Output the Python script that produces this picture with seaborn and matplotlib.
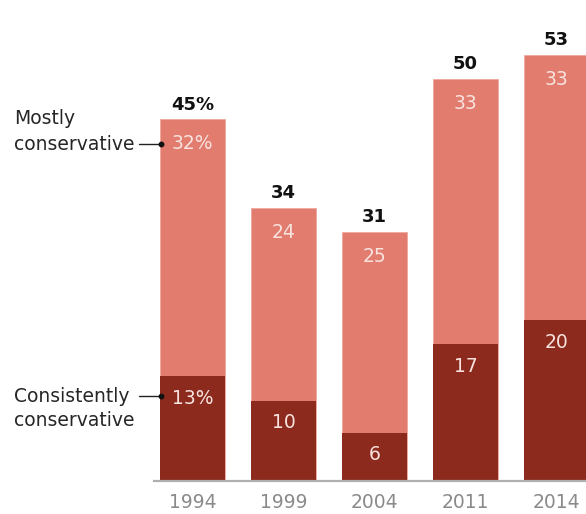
import matplotlib
matplotlib.use("Agg")
import matplotlib.pyplot as plt
import seaborn as sns
import pandas as pd

years = ["1994", "1999", "2004", "2011", "2014"]
consistently = [13, 10, 6, 17, 20]
mostly = [32, 24, 25, 33, 33]
totals = [45, 34, 31, 50, 53]
total_labels = ["45%", "34", "31", "50", "53"]
mostly_labels = ["32%", "24", "25", "33", "33"]
consistently_labels = ["13%", "10", "6", "17", "20"]

LIGHT = "#E17C6F"
DARK = "#8C2A1D"
INNER = "#F8E3DE"

sns.set_style("white")
plt.rcParams["font.family"] = ["DejaVu Sans"]

df = pd.DataFrame({"year": years, "total": totals, "consistently": consistently})

W, H = 586, 514
fig = plt.figure(figsize=(W / 100, H / 100), dpi=100)
base_px = 481
unit = 8.04
bar_step = 91.0
c0 = 192.5
ax = fig.add_axes([0, (H - base_px) / H, 1, base_px / H])

sns.barplot(data=df, x="year", y="total", color=LIGHT, saturation=1,
            width=65 / bar_step, ax=ax, edgecolor="#F0A89E", linewidth=0.6)
sns.barplot(data=df, x="year", y="consistently", color=DARK, saturation=1,
            width=65 / bar_step, ax=ax, linewidth=0)

ax.set_xlim(-c0 / bar_step, (W - c0) / bar_step)
ax.set_ylim(0, base_px / unit)
for s in ax.spines.values():
    s.set_visible(False)
ax.set_xlabel("")
ax.set_ylabel("")
ax.set_yticks([])
ax.tick_params(axis="x", length=0, pad=9, labelsize=13.5, labelcolor="#8a8a8a")

def px2x(px):
    return (px - c0) / bar_step

def py2y(py):
    return (base_px - py) / unit

ax.plot([px2x(153), px2x(W + 5)], [0, 0], color="#b0b0b0", lw=1.6,
        clip_on=False, solid_capstyle="butt")

for i in range(len(years)):
    ax.annotate(total_labels[i], (i, totals[i]), xytext=(0, 4),
                textcoords="offset points", ha="center", va="bottom",
                fontsize=13, fontweight="bold", color="#111111")
    ax.annotate(mostly_labels[i], (i, totals[i]), xytext=(0, -11),
                textcoords="offset points", ha="center", va="top",
                fontsize=13.5, color=INNER)
    ax.annotate(consistently_labels[i], (i, consistently[i]), xytext=(0, -9),
                textcoords="offset points", ha="center", va="top",
                fontsize=13.5, color=INNER)

label_x = px2x(14)
tc = "#262626"
ax.text(label_x, py2y(118), "Mostly", ha="left", va="center", fontsize=13.5, color=tc)
ax.text(label_x, py2y(144), "conservative", ha="left", va="center", fontsize=13.5, color=tc)
ax.text(label_x, py2y(396), "Consistently", ha="left", va="center", fontsize=13.5, color=tc)
ax.text(label_x, py2y(421), "conservative", ha="left", va="center", fontsize=13.5, color=tc)

for py in (144, 396):
    ax.plot([px2x(139), px2x(161)], [py2y(py), py2y(py)], color="#222222", lw=1)
    ax.plot([px2x(161)], [py2y(py)], "o", color="#111111", ms=3.2)

fig.savefig("out.png", dpi=100)
